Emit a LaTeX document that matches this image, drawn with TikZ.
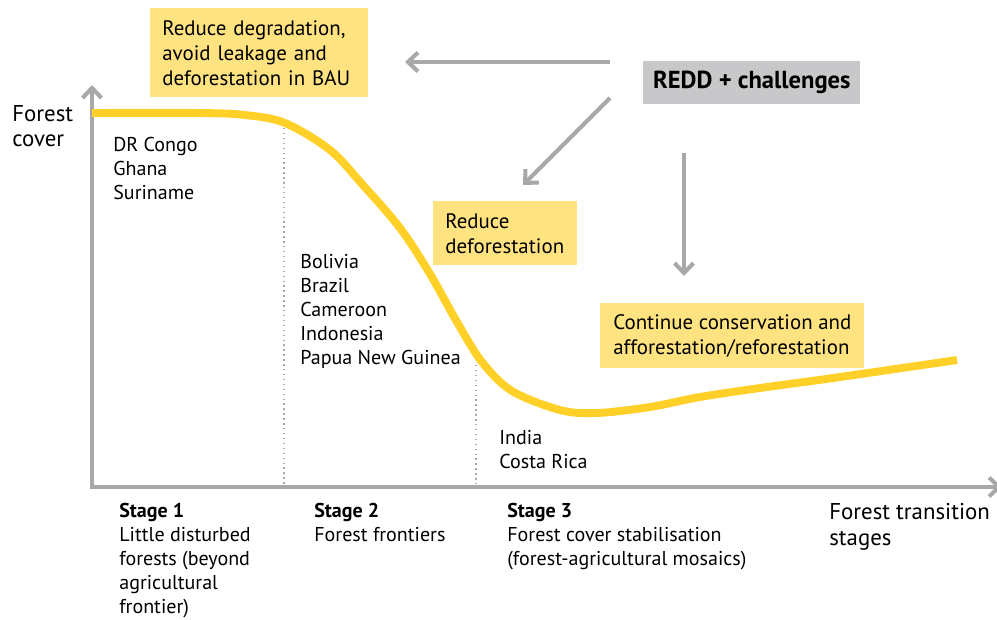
\documentclass[tikz,border=0pt]{standalone}
\usepackage{fontspec}
\setmainfont{PT Sans}
\usetikzlibrary{arrows.meta}

\definecolor{boxyellow}{RGB}{255,227,128}
\definecolor{boxgray}{RGB}{200,200,202}
\definecolor{axisgray}{RGB}{168,168,170}
\definecolor{curveyellow}{RGB}{255,208,40}

\begin{document}
\begin{tikzpicture}[x=0.02cm,y=-0.02cm]
			\tikzset{chbox/.style={fill=boxyellow, anchor=north west, align=left,
						inner xsep=0.24cm, inner ysep=0pt, font=\fontsize{11.9}{14.2}\selectfont}}
			\tikzset{redbox/.style={fill=boxgray, anchor=north west, inner sep=0pt,
						minimum width=4.34cm, minimum height=0.86cm,
						font=\fontsize{14}{16}\selectfont\bfseries}}
			\tikzset{lbl/.style={anchor=north west, align=left, inner sep=0pt,
						font=\fontsize{11.4}{13.6}\selectfont}}
			\tikzset{biglbl/.style={anchor=north west, align=left, inner sep=0pt,
						font=\fontsize{13}{14.5}\selectfont}}
			\tikzset{gline/.style={draw=axisgray, line width=2.3pt,
						-{Straight Barb[length=5.7pt,width=10.8pt]}}}
			\tikzset{stagedash/.style={draw=axisgray, line width=0.8pt, dotted}}

			\useasboundingbox (0,0) rectangle (997,619);

				% axes
				\coordinate (orig) at (92,487);
				\coordinate (ytip) at (92,85);
				\coordinate (xtip) at (1002,487);
				\draw[draw=axisgray, line width=2.3pt,
					{Straight Barb[length=5.7pt,width=10.8pt]}-{Straight Barb[length=5.7pt,width=10.8pt]}]
					(ytip) -- (orig) -- (xtip);

				% stage borders
				\coordinate (s2top) at (284,128);
				\coordinate (s2bot) at (284,487);
				\coordinate (s3top) at (476,365);
				\coordinate (s3bot) at (476,487);
				\draw[stagedash] (s2top) -- (s2bot);
				\draw[stagedash] (s3top) -- (s3bot);

				% forest cover curve
				\draw[curveyellow, line width=4.5pt, line cap=butt] plot[smooth, tension=0.55] coordinates {
					(92,113) (200,113) (245,115) (285,123) (330,150) (362,184)
					(400,228) (430,274) (457,322) (482,362) (512,391) (560,410)
					(597,413) (650,407) (700,397) (760,388) (833,378) (957,360)};

				% boxes
				\node[chbox, text width=3.88cm, minimum height=1.78cm] (bau) at (150,8)
					{Reduce degradation,\\avoid leakage and\\deforestation in BAU};
				\node[chbox, text width=2.4cm, minimum height=1.28cm] (defo) at (433,201)
					{Reduce\\deforestation};
				\node[chbox, inner xsep=0pt, minimum width=5.28cm, minimum height=1.3cm] (cons) at (600,303)
					{Continue conservation and\\afforestation/reforestation};
				\node[redbox] (redd) at (643,61) {REDD + challenges};

				% arrows
				\coordinate (a1s) at (610,62);
				\coordinate (a1e) at (405,62);
				\coordinate (a2s) at (610,98);
				\coordinate (a2e) at (523,185);
				\coordinate (a3s) at (684,153);
				\coordinate (a3e) at (684,276);
				\draw[gline] (a1s) -- (a1e);
				\draw[gline] (a2s) -- (a2e);
				\draw[gline] (a3s) -- (a3e);

				% axis labels
				\node[biglbl] (ylab) at (12,105) {Forest\\cover};
				\node[biglbl] (xlab) at (829,503) {Forest transition\\stages};

				% countries
				\node[lbl] (cty1) at (113,137) {DR Congo\\Ghana\\Suriname};
				\node[lbl] (cty2) at (300,254) {Bolivia\\Brazil\\Cameroon\\Indonesia\\Papua New Guinea};
				\node[lbl] (cty3) at (499,430) {India\\Costa Rica};

				% stages
				\node[lbl] (st1) at (119,503) {\textbf{Stage 1}\\Little disturbed\\forests (beyond\\agricultural\\frontier)};
				\node[lbl] (st2) at (314,503) {\textbf{Stage 2}\\Forest frontiers};
				\node[lbl] (st3) at (507,503) {\textbf{Stage 3}\\Forest cover stabilisation\\(forest-agricultural mosaics)};
		\end{tikzpicture}
\end{document}
